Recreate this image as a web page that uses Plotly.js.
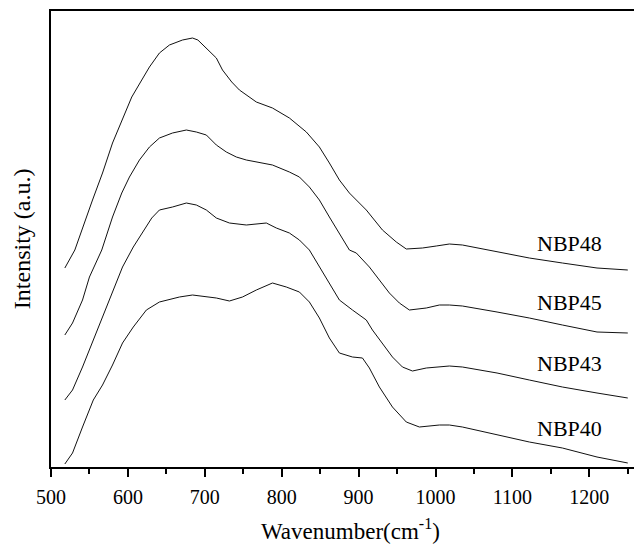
<!DOCTYPE html>
<html>
<head>
<meta charset="utf-8">
<script src="https://cdn.plot.ly/plotly-3.0.1.min.js"></script>
<style>
html,body{margin:0;padding:0;overflow:hidden;background:#fff;}
#chart{width:660px;height:545px;}
</style>
</head>
<body>
<div id="chart"></div>
<script>
// Wavenumber (cm-1) and intensity (a.u., offset-stacked)
var x48 = [518,531,554,567,580,592,605,618,628,641,654,671,684,691,702,715,723,735,745,767,788,810,832,849,862,875,888,910,931,949,962,983,1001,1018,1035,1080,1122,1165,1210,1250];
var y48 = [199,217,267,294,324,347,370,387,400,414,422,427,429,427,419,409,397,385,377,365,359,349,335,320,304,287,274,257,237,225,218,219,221,223,222,215,209,204,199,197];

var x45 = [518,528,541,550,566,580,592,602,615,628,641,658,676,689,702,715,728,741,754,767,788,810,823,836,849,862,875,888,897,914,927,940,953,966,988,1005,1018,1035,1080,1122,1165,1210,1250];
var y45 = [132,144,167,190,217,250,274,290,307,320,329,334,337,335,332,322,315,310,307,305,302,295,290,280,267,250,234,217,214,200,187,174,164,157,159,162,162,161,155,149,142,135,134];

var x43 = [518,528,541,555,567,580,593,607,619,631,641,658,676,689,702,715,732,754,780,793,810,823,836,849,862,875,892,910,918,931,944,957,970,988,1005,1018,1035,1080,1122,1165,1210,1250];
var y43 = [67,77,100,127,150,174,200,220,235,249,257,260,264,262,257,249,244,242,244,239,234,227,217,200,184,167,157,147,137,124,110,100,96,99,100,101,100,94,87,80,74,69];

var x40 = [518,528,541,555,567,580,593,607,624,641,667,684,715,732,749,767,788,806,823,836,849,862,875,892,905,914,927,944,962,979,1005,1018,1035,1080,1122,1165,1210,1250];
var y40 = [3,14,40,67,82,102,124,140,157,165,170,172,169,166,170,177,184,180,175,165,149,129,114,110,109,99,80,60,45,40,42,42,40,32,25,19,10,4];

var seriesNames = ["NBP48","NBP45","NBP43","NBP40"];
var labelX = 1174;
var labelY = [224,165,104,39];

var xs = [x48,x45,x43,x40];
var ys = [y48,y45,y43,y40];

var font = "'Liberation Serif', 'Times New Roman', Times, serif";
var traces = xs.map(function(x,i){
  return {x:x, y:ys[i], type:'scatter', mode:'lines', name:seriesNames[i],
    line:{color:'#111', width:1}, hoverinfo:'skip'};
});

var annotations = seriesNames.map(function(n,i){
  return {x:labelX, y:labelY[i], xref:'x', yref:'y', text:n, showarrow:false,
    font:{family:font, size:22, color:'#000'}, xanchor:'center', yanchor:'middle'};
});
annotations.push({xref:'paper', yref:'paper', x:-0.049, y:0.50, text:'Intensity (a.u.)',
  textangle:-90, showarrow:false, font:{family:font, size:24, color:'#000'},
  xanchor:'center', yanchor:'middle'});
annotations.push({xref:'paper', yref:'paper', x:0.5085, y:-0.138, text:'Wavenumber(cm<sup>-1</sup>)',
  showarrow:false, font:{family:font, size:23, color:'#000'},
  xanchor:'center', yanchor:'middle'});

var layout = {
  width:660, height:545,
  margin:{l:51, r:20, t:11, b:78},
  paper_bgcolor:'#fff', plot_bgcolor:'#fff',
  showlegend:false,
  font:{family:font, color:'#000'},
  xaxis:{range:[500,1265.9], showline:true, linecolor:'#000', linewidth:2, mirror:true,
    showgrid:false, zeroline:false, ticks:'outside', ticklen:8, tickwidth:2, tickcolor:'#000',
    ticklabelstandoff:3,
    tickvals:[500,600,700,800,900,1000,1100,1200], ticktext:['500','600','700','800','900','1000','1100','1200'],
    minor:{tickvals:[550,650,750,850,950,1050,1150,1250], ticks:'outside', ticklen:5, tickwidth:2, tickcolor:'#000'},
    tickfont:{family:font, size:20, color:'#000'}},
  yaxis:{range:[0,456], showline:true, linecolor:'#000', linewidth:2, mirror:true,
    showgrid:false, zeroline:false, showticklabels:false, ticks:''},
  annotations:annotations
};

Plotly.newPlot('chart', traces, layout, {staticPlot:true, displayModeBar:false});
</script>
</body>
</html>
